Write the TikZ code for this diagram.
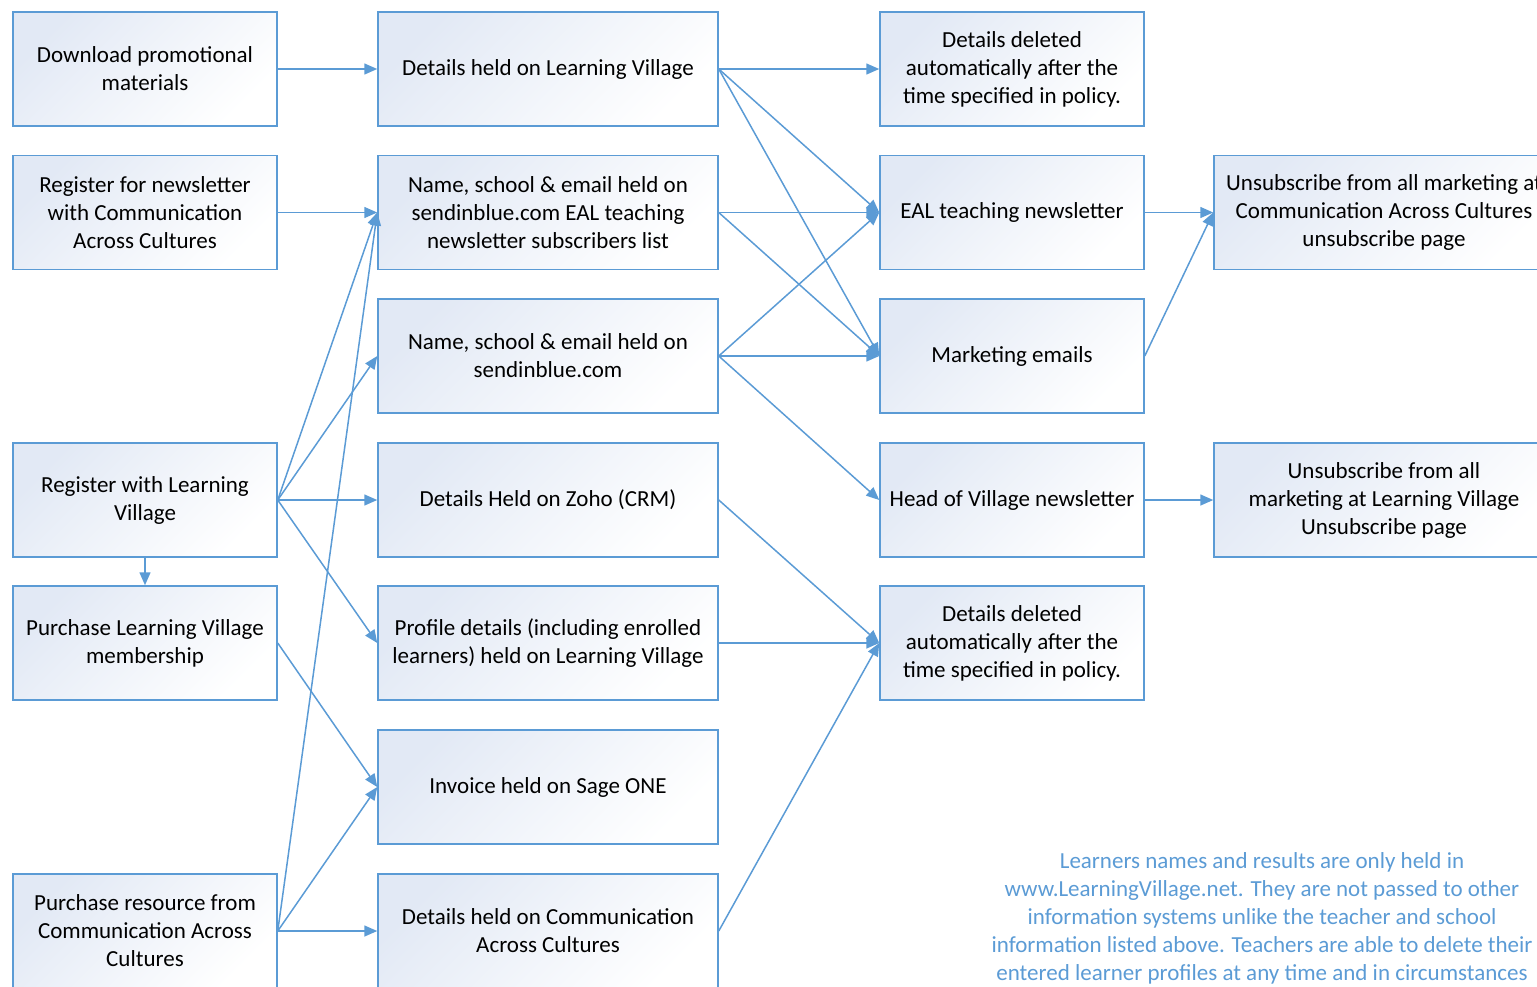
\documentclass[tikz,border=0pt]{standalone}
\usepackage{fontspec}
\setmainfont{Carlito}
\usepackage{tikz}
\usetikzlibrary{arrows.meta}
\definecolor{linkblue}{HTML}{5B9BD5}
\definecolor{boxtint}{HTML}{E2E9F5}
\tikzset{
  box/.style={draw=linkblue, line width=0.75pt, top color=boxtint, bottom color=white,
    shading angle=45, minimum width=132pt, minimum height=57pt, align=center,
    inner sep=2pt, font=\fontsize{11.5}{14}\selectfont},
  widebox/.style={box, minimum width=170pt},
  link/.style={draw=linkblue, line width=0.75pt, -{Triangle[length=6.5pt,width=5.5pt]}},
}
\begin{document}
\begin{tikzpicture}[x=0.5pt,y=-0.5pt]
     \useasboundingbox (0,0) rectangle (1537,986);
     \clip (0,0) rectangle (1537,986);
     % sources
     \node[box] (download) at (145,69) {Download promotional\\materials};
     \node[box] (regnews) at (145,212.5) {Register for newsletter\\with Communication\\Across Cultures};
     \node[box] (reglv) at (145,500) {Register with Learning\\Village};
     \node[box] (buylv) at (145,643) {Purchase Learning Village\\membership};
     \node[box] (buycac) at (145,931) {Purchase resource from\\Communication Across\\Cultures};
     % where details are held
     \node[widebox] (heldlv) at (548,69) {Details held on Learning Village};
     \node[widebox] (ealist) at (548,212.5) {Name, school \& email held on\\sendinblue.com EAL teaching\\newsletter subscribers list};
     \node[widebox] (sendin) at (548,356) {Name, school \& email held on\\sendinblue.com};
     \node[widebox] (zoho) at (548,500) {Details Held on Zoho (CRM)};
     \node[widebox] (profile) at (548,643) {Profile details (including enrolled\\learners) held on Learning Village};
     \node[widebox] (sage) at (548,787) {Invoice held on Sage ONE};
     \node[widebox] (heldcac) at (548,931) {Details held on Communication\\Across Cultures};
     % outcomes
     \node[box] (deltop) at (1012,69) {Details deleted\\automatically after the\\time specified in policy.};
     \node[box] (ealnews) at (1012,212.5) {EAL teaching newsletter};
     \node[box] (mkt) at (1012,356) {Marketing emails};
     \node[box] (headnews) at (1012,500) {Head of Village newsletter};
     \node[box] (delbot) at (1012,643) {Details deleted\\automatically after the\\time specified in policy.};
     \node[widebox] (unsubcac) at (1384,212.5) {Unsubscribe from all marketing at\\Communication Across Cultures\\unsubscribe page};
     \node[widebox] (unsublv) at (1384,500) {Unsubscribe from all\\marketing at Learning Village\\Unsubscribe page};
     \node[align=center, text=linkblue, font=\fontsize{11.5}{14}\selectfont] (note) at (1262,918)
       {Learners names and results are only held in\\www.LearningVillage.net. They are not passed to other\\information systems unlike the teacher and school\\information listed above. Teachers are able to delete their\\entered learner profiles at any time and in circumstances};
     % first column to second
     \draw[link] (download.east) -- (heldlv.west);
     \draw[link] (regnews.east) -- (ealist.west);
     \draw[link] (reglv.east) -- (ealist.west);
     \draw[link] (reglv.east) -- (sendin.west);
     \draw[link] (reglv.east) -- (zoho.west);
     \draw[link] (reglv.east) -- (profile.west);
     \draw[link] (reglv.south) -- (buylv.north);
     \draw[link] (buylv.east) -- (sage.west);
     \draw[link] (buycac.east) -- (ealist.west);
     \draw[link] (buycac.east) -- (sage.west);
     \draw[link] (buycac.east) -- (heldcac.west);
     % second column to third
     \draw[link] (heldlv.east) -- (deltop.west);
     \draw[link] (heldlv.east) -- (ealnews.west);
     \draw[link] (heldlv.east) -- (mkt.west);
     \draw[link] (ealist.east) -- (ealnews.west);
     \draw[link] (ealist.east) -- (mkt.west);
     \draw[link] (sendin.east) -- (ealnews.west);
     \draw[link] (sendin.east) -- (mkt.west);
     \draw[link] (sendin.east) -- (headnews.west);
     \draw[link] (zoho.east) -- (delbot.west);
     \draw[link] (profile.east) -- (delbot.west);
     \draw[link] (heldcac.east) -- (delbot.west);
     % third column to unsubscribe pages
     \draw[link] (ealnews.east) -- (unsubcac.west);
     \draw[link] (mkt.east) -- (unsubcac.west);
     \draw[link] (headnews.east) -- (unsublv.west);
\end{tikzpicture}
\end{document}
